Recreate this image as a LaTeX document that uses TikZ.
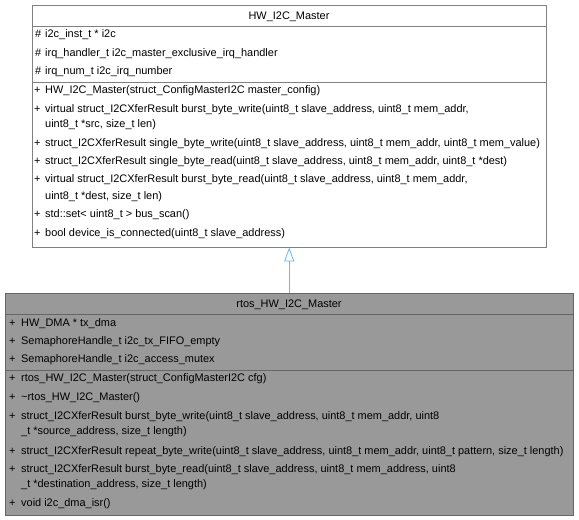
\documentclass[tikz,border=0pt]{standalone}
\usepackage{fontspec}
\setmainfont{Liberation Sans}
\usetikzlibrary{arrows.meta}
\definecolor{edgegray}{HTML}{808080}
\definecolor{darkgray}{HTML}{666666}
\definecolor{classgray}{HTML}{999999}
\definecolor{inheritblue}{HTML}{63B8FF}
\newcommand{\pub}[1]{\makebox[#1][l]{+}}
\newcommand{\prot}[1]{\makebox[#1][l]{\#}}
\tikzset{%
  classbox/.style   = {shape=rectangle, draw, anchor=north west, inner sep=0pt},%
  basebox/.style    = {classbox, draw=edgegray, fill=white},%
  derivedbox/.style = {classbox, draw=darkgray, fill=classgray},%
  member/.style     = {anchor=base west, inner sep=0pt, font=\fontsize{10.95}{12}\selectfont},%
  classname/.style  = {member, anchor=base},%
  inherit/.style    = {-{Triangle[open, length=14pt, width=10pt, fill=white]}, draw=inheritblue, line width=0.8pt}%
}

\begin{document}
\begin{tikzpicture}[x=1pt,y=-1pt]
	\useasboundingbox (0,0) rectangle (579,520);
	% base class
	\node[basebox, minimum width=514pt, minimum height=242pt] (base) at (32,5) {};
	\draw[edgegray] (32,26) -- (546,26);
	\draw[edgegray] (32,82) -- (546,82);
	\node[classname] (basename) at (289,19.3) {HW\_I2C\_Master};
	\node[member] (b1) at (35,37.7) {\prot{10pt}i2c\_inst\_t * i2c};
	\node[member] (b2) at (35,56) {\prot{10pt}irq\_handler\_t i2c\_master\_exclusive\_irq\_handler};
	\node[member] (b3) at (35,74.5) {\prot{10pt}irq\_num\_t i2c\_irq\_number};
	\node[member] (b4) at (34,93) {\pub{11pt}HW\_I2C\_Master(struct\_ConfigMasterI2C master\_config)};
	\node[member] (b5) at (34,112) {\pub{11pt}virtual struct\_I2CXferResult burst\_byte\_write(uint8\_t slave\_address, uint8\_t mem\_addr,};
	\node[member] (b5c) at (45,127) {uint8\_t *src, size\_t len)};
	\node[member] (b6) at (34,146) {\pub{11pt}struct\_I2CXferResult single\_byte\_write(uint8\_t slave\_address, uint8\_t mem\_addr, uint8\_t mem\_value)};
	\node[member] (b7) at (34,164.3) {\pub{11pt}struct\_I2CXferResult single\_byte\_read(uint8\_t slave\_address, uint8\_t mem\_addr, uint8\_t *dest)};
	\node[member] (b8) at (34,182.3) {\pub{11pt}virtual struct\_I2CXferResult burst\_byte\_read(uint8\_t slave\_address, uint8\_t mem\_addr,};
	\node[member] (b8c) at (45,199) {uint8\_t *dest, size\_t len)};
	\node[member] (b9) at (34,217.3) {\pub{11pt}std::set< uint8\_t > bus\_scan()};
	\node[member] (b10) at (34,236) {\pub{11pt}bool device\_is\_connected(uint8\_t slave\_address)};
	% derived class
	\node[derivedbox, minimum width=568pt, minimum height=222pt] (derived) at (5,293) {};
	\draw[darkgray] (5,314.5) -- (573,314.5);
	\draw[darkgray] (5,370.5) -- (573,370.5);
	\node[classname] (derivedname) at (289,307.3) {rtos\_HW\_I2C\_Master};
	\node[member] (d1) at (9,326) {\pub{12pt}HW\_DMA * tx\_dma};
	\node[member] (d2) at (9,344.3) {\pub{12pt}SemaphoreHandle\_t i2c\_tx\_FIFO\_empty};
	\node[member] (d3) at (9,362.7) {\pub{12pt}SemaphoreHandle\_t i2c\_access\_mutex};
	\node[member] (d4) at (9,381.5) {\pub{12pt}rtos\_HW\_I2C\_Master(struct\_ConfigMasterI2C cfg)};
	\node[member] (d5) at (9,400) {\pub{12pt}\textasciitilde rtos\_HW\_I2C\_Master()};
	\node[member] (d6) at (9,419.3) {\pub{12pt}struct\_I2CXferResult burst\_byte\_write(uint8\_t slave\_address, uint8\_t mem\_addr, uint8};
	\node[member] (d6c) at (21,434.3) {\_t *source\_address, size\_t length)};
	\node[member] (d7) at (9,454) {\pub{12pt}struct\_I2CXferResult repeat\_byte\_write(uint8\_t slave\_address, uint8\_t mem\_addr, uint8\_t pattern, size\_t length)};
	\node[member] (d8) at (9,472.3) {\pub{12pt}struct\_I2CXferResult burst\_byte\_read(uint8\_t slave\_address, uint8\_t mem\_address, uint8};
	\node[member] (d8c) at (21,487.7) {\_t *destination\_address, size\_t length)};
	\node[member] (d9) at (9,506) {\pub{12pt}void i2c\_dma\_isr()};
	% inheritance
	\draw[inherit] (derived.north) -- (base.south);
\end{tikzpicture}
\end{document}
